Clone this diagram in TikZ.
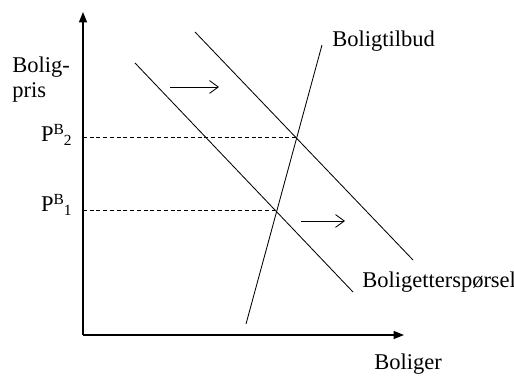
\documentclass[tikz,border=0pt]{standalone}
\usepackage{fontspec}
\setmainfont{Liberation Serif}
\usetikzlibrary{arrows.meta}
\newcommand{\pris}[1]{P\raisebox{0.72ex}{\fontsize{11}{11}\selectfont B}\raisebox{-0.35ex}{\fontsize{11}{11}\selectfont #1}}
\begin{document}
\begin{tikzpicture}[font=\fontsize{16}{17.8}\selectfont,
  akse/.style={line width=0.9pt, -{Triangle[length=2.6mm,width=2mm]}},
  kurve/.style={line width=0.6pt},
  stiplet/.style={line width=0.5pt, dash pattern=on 2.8pt off 2pt},
  skift/.style={line width=0.6pt, -{Straight Barb[length=2.2mm,width=3.2mm]}},
  tekst/.style={inner sep=0pt}]
\useasboundingbox (-2.075,-1.075) rectangle (10.775,8.375);
% akser
\draw[akse] (0,0) -- (0,8.075);
\draw[akse] (0,0) -- (8.025,0);
% tilbud og efterspoergsel
\draw[kurve] (4.075,0.275) -- (5.975,7.25);
\draw[kurve] (1.3,6.8) -- (6.75,1.075);
\draw[kurve] (2.8,7.575) -- (8.25,1.875);
% ligevaegtspriser
\draw[stiplet] (0,4.95) -- (5.35,4.95);
\draw[stiplet] (0,3.125) -- (4.85,3.125);
% skift i efterspoergslen
\draw[skift] (2.175,6.2) -- (3.4,6.2);
\draw[skift] (5.45,2.85) -- (6.55,2.85);
% tekster
\node[tekst, anchor=north west, align=left] (yakse) at (-1.775,6.95) {Bolig-\\pris};
\node[tekst, anchor=base east] (p2) at (-0.275,4.825) {\pris{2}};
\node[tekst, anchor=base east] (p1) at (-0.275,3.075) {\pris{1}};
\node[tekst, anchor=base west] (tilbud) at (6.225,7.2) {Boligtilbud};
\node[tekst, anchor=base west] (eftersp) at (6.975,1.175) {Boligetterspørsel};
\node[tekst, anchor=base west] (xakse) at (7.275,-0.875) {Boliger};
\end{tikzpicture}
\end{document}
